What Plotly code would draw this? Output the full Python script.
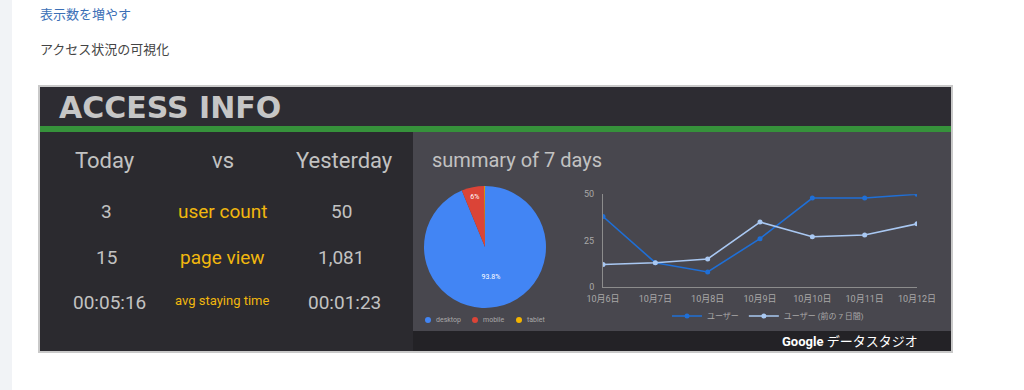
import plotly.graph_objects as go

W, H = 1024, 390

# ---- data ----
dates = ["10月6日", "10月7日", "10月8日", "10月9日", "10月10日", "10月11日", "10月12日"]
users = [38, 13, 8, 26, 48, 48, 50]
users_prev = [12, 13, 15, 35, 27, 28, 34]
devices = ["desktop", "mobile", "tablet"]
device_share = [93.8, 6.0, 0.2]
device_colors = ["#4285f4", "#db4437", "#f4b400"]
legend_x = [428, 475, 519]
row_today = ["3", "15", "00:05:16"]
row_label = ["user count", "page view", "avg staying time"]
row_yesterday = ["50", "1,081", "00:01:23"]


def px(x):
    return x / W


def py(y):
    return 1 - y / H


FONT = "Roboto, 'Noto Sans CJK JP', sans-serif"
fig = go.Figure()

fig.add_trace(go.Pie(
    labels=devices, values=device_share, sort=False, direction="clockwise", rotation=0,
    marker=dict(colors=device_colors, line=dict(width=0)),
    texttemplate=["%{percent}", "%{percent}", ""], textposition="inside",
    insidetextfont=dict(size=7, color="white", family=FONT),
    domain=dict(x=[px(424), px(546)], y=[py(308), py(186)]),
    showlegend=False, hoverinfo="label+percent",
))

fig.add_trace(go.Scatter(
    x=dates, y=users, name="ユーザー", mode="lines+markers",
    line=dict(color="#1f6fd6", width=1.6), marker=dict(size=5, color="#1f6fd6"),
))
fig.add_trace(go.Scatter(
    x=dates, y=users_prev, name="ユーザー (前の 7 日間)", mode="lines+markers",
    line=dict(color="#a9c8f2", width=1.6), marker=dict(size=5, color="#a9c8f2"),
))

shapes = []


def rect(x0, y0, x1, y1, color):
    shapes.append(dict(type="rect", xref="paper", yref="paper", layer="below",
                       x0=px(x0), x1=px(x1), y0=py(y1), y1=py(y0),
                       fillcolor=color, line=dict(width=0)))


rect(0, 0, 12, 390, "#f1f3f6")
rect(38, 85, 953, 353, "#c9c9c9")
rect(40, 87, 951, 351, "#2b2a2f")
rect(40, 87, 951, 126, "#2d2c32")
rect(40, 126, 951, 132, "#36923b")
rect(413, 132, 951, 331, "#48474e")
rect(413, 331, 951, 351, "#232226")

ann = []


def text(x, y, s, size, color, anchor="center", family=FONT):
    ann.append(dict(x=px(x), y=py(y), xref="paper", yref="paper", text=s, showarrow=False,
                    xanchor=anchor, yanchor="middle", font=dict(size=size, color=color, family=family)))


# pie legend (dots + labels)
for lx, name, col in zip(legend_x, devices, device_colors):
    shapes.append(dict(type="circle", xref="paper", yref="paper",
                       x0=px(lx - 3), x1=px(lx + 3), y0=py(323), y1=py(317),
                       fillcolor=col, line=dict(width=0)))
    text(lx + 6, 320, name, 7, "#a8a8a8", "left")

text(38, 14, "表示数を増やす", 13, "#3b6fb6", "left", "'Noto Sans CJK JP'")
text(38, 48, "アクセス状況の可視化", 13, "#444444", "left", "'Noto Sans CJK JP'")
text(57, 107, "<b>ACCESS INFO</b>", 30, "#c6c6c6", "left", "'DejaVu Sans'")

hdr = "#c2c2c2"
text(105, 160, "Today", 22, hdr)
text(223, 160, "vs", 22, hdr)
text(344, 160, "Yesterday", 22, hdr)
gold = "#f1b70e"
ys = [211, 257, 302]
for i in range(3):
    text(106 if i < 2 else 109, ys[i], row_today[i], 19, "#c2c2c2")
    text(222, ys[i] - (2 if i == 2 else 0), row_label[i], 19 if i < 2 else 13, gold)
    text(341 if i < 2 else 344, ys[i], row_yesterday[i], 19, "#c2c2c2")

text(430, 160, "summary of 7 days", 20, "#c2c2c2", "left")
text(920, 341, "<b>Google</b> データスタジオ", 13, "#ffffff", "right", "Roboto, 'Noto Sans CJK JP'")

fig.update_layout(
    width=W, height=H, margin=dict(l=0, r=0, t=0, b=0, pad=0), autosize=False,
    paper_bgcolor="white", plot_bgcolor="rgba(0,0,0,0)",
    shapes=shapes, annotations=ann,
    font=dict(family=FONT),
    xaxis=dict(domain=[px(603), px(917)], type="category", range=[0, 6], automargin=False,
               showgrid=False, zeroline=False, showline=True, linecolor="#8c8c8c", linewidth=1,
               ticks="", tickfont=dict(size=9, color="#a8a8a8"), ticklabelstandoff=3,
               fixedrange=True),
    yaxis=dict(domain=[py(286.7), py(194.3)], range=[0, 50], tickvals=[0, 25, 50], automargin=False,
               showgrid=False, zeroline=False, showline=True, linecolor="#8c8c8c", linewidth=1,
               ticks="", tickfont=dict(size=9, color="#a8a8a8"), ticklabelstandoff=6, fixedrange=True),
    showlegend=True,
    legend=dict(orientation="h", x=px(768), y=py(316), xanchor="center", yanchor="middle",
                font=dict(size=8, color="#a8a8a8"), bgcolor="rgba(0,0,0,0)", itemwidth=30),
)

fig.write_html("out.html")
